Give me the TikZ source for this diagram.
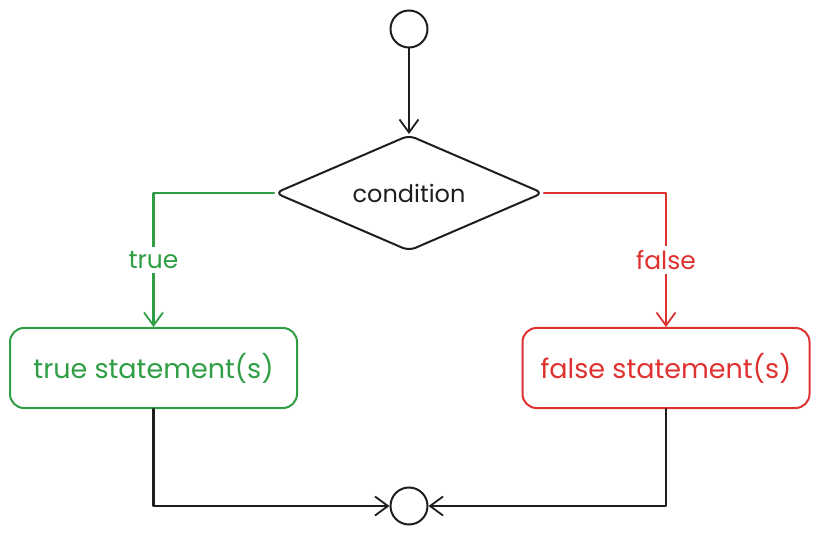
\documentclass[tikz,border=0pt]{standalone}
\usepackage{fontspec}
\setmainfont{Poppins}
\usetikzlibrary{shapes.geometric,arrows.meta}
\definecolor{ink}{HTML}{1E1E1E}
\definecolor{gr}{HTML}{2F9E44}
\definecolor{rd}{HTML}{E03131}
\tikzset{
  line/.style={line width=2.2pt, line cap=round, line join=round},
  arr/.style={line, -{Straight Barb[length=13pt, width=19pt, line width=1.8pt]}},
  dot/.style={circle, draw=ink, line width=2pt, minimum size=37pt, inner sep=0pt},
  stmt/.style={draw, rounded corners=14pt, line width=2pt, minimum width=287pt, minimum height=80pt, inner sep=0pt, font=\fontsize{27}{30}\selectfont},
  lbl/.style={fill=white, inner sep=4pt, font=\fontsize{25}{28}\selectfont},
  decision/.style={diamond, shape aspect=2.31, draw=ink, line width=2pt, rounded corners=7pt, minimum width=268pt, minimum height=116pt, inner sep=0pt, font=\fontsize{24}{27}\selectfont, text=ink},
}
\begin{document}
\begin{tikzpicture}[x=1pt, y=-1pt]
\useasboundingbox (0,0) rectangle (819,534);
\node[dot] (start) at (409,29) {};
\node[decision] (cond) at (409,193) {condition};
\node[stmt, draw=gr, text=gr] (tb) at (153.5,368) {true statement(s)};
\node[stmt, draw=rd, text=rd] (fb) at (666,368) {false statement(s)};
\node[dot] (end) at (409,506) {};
\draw[arr, ink] (start.south) -- (cond.north);
\draw[arr, gr] (cond.west) -| node[pos=0.75, lbl, text=gr] {true} (tb.north);
\draw[arr, rd] (cond.east) -| node[pos=0.75, lbl, text=rd] {false} (fb.north);
\draw[arr, ink] (tb.south) |- (end.west);
\draw[arr, ink] (fb.south) |- (end.east);
\end{tikzpicture}
\end{document}
